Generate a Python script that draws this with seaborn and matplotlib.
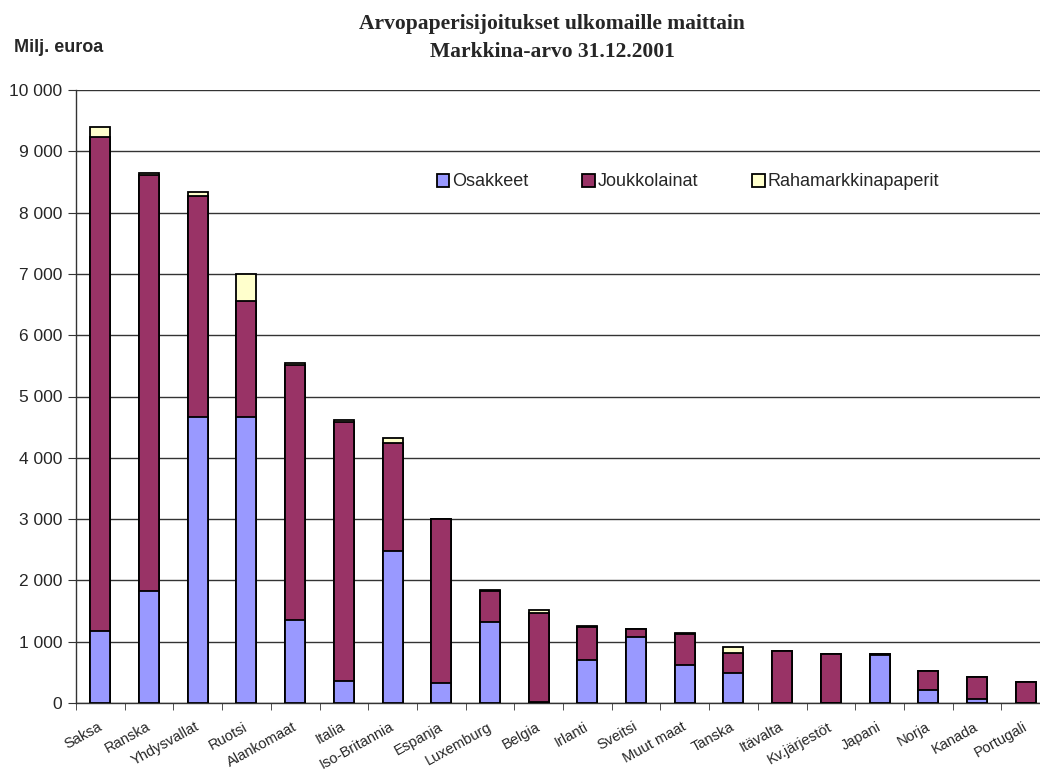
import numpy as np
import pandas as pd
import seaborn as sns
import matplotlib.pyplot as plt
import matplotlib.transforms as mtransforms
from matplotlib.ticker import FuncFormatter, FixedLocator

# Arvopaperisijoitukset ulkomaille maittain, milj. euroa
maat = ['Saksa', 'Ranska', 'Yhdysvallat', 'Ruotsi', 'Alankomaat', 'Italia',
        'Iso-Britannia', 'Espanja', 'Luxemburg', 'Belgia', 'Irlanti', 'Sveitsi',
        'Muut maat', 'Tanska', 'Itävalta', 'Kv.järjestöt', 'Japani', 'Norja',
        'Kanada', 'Portugali']
osakkeet = [1170, 1830, 4665, 4665, 1360, 360, 2480, 320, 1320, 20, 700, 1080,
            620, 490, 0, 0, 780, 210, 60, 0]
joukkolainat = [8060, 6780, 3605, 1900, 4160, 4230, 1760, 2680, 510, 1450, 540, 120,
                510, 330, 850, 800, 20, 315, 370, 350]
rahamarkkina = [160, 40, 60, 437, 30, 20, 80, 5, 10, 40, 15, 10,
                15, 90, 0, 0, 0, 0, 0, 0]

sarjat = ['Osakkeet', 'Joukkolainat', 'Rahamarkkinapaperit']
varit = ['#9999FF', '#993366', '#FFFFCC']

df = pd.DataFrame({'maa': maat, 'Osakkeet': osakkeet,
                   'Joukkolainat': joukkolainat, 'Rahamarkkinapaperit': rahamarkkina})
# kumulatiiviset summat pinottuja pylväitä varten
df['c1'] = df['Osakkeet']
df['c2'] = df['c1'] + df['Joukkolainat']
df['c3'] = df['c2'] + df['Rahamarkkinapaperit']

sns.set_style('white')
plt.rcParams['font.family'] = ['Liberation Sans', 'DejaVu Sans']

fig = plt.figure(figsize=(10.4, 7.72), dpi=100)
ax = fig.add_axes([76 / 1040, 69 / 772, 974 / 1040, 613 / 772])

for col, name, c in zip(['c3', 'c2', 'c1'], sarjat[::-1], varit[::-1]):
    sns.barplot(data=df, x='maa', y=col, order=maat, color=c, width=0.41,
                edgecolor='black', linewidth=1.3, saturation=1, ax=ax, label=name,
                zorder=3)

ax.set_xlim(-0.5, len(maat) - 0.5)
ax.set_ylim(0, 10000)
ax.set_yticks(np.arange(0, 10001, 1000))
ax.yaxis.set_major_formatter(FuncFormatter(lambda v, p: f'{int(v):,}'.replace(',', ' ')))
ax.grid(axis='y', color='#333333', linewidth=1.0, zorder=0)
ax.set_axisbelow(True)

ax.set_xlabel('')
ax.set_ylabel('')
ax.set_xticks(range(len(maat)))
ax.set_xticklabels(maat, rotation=29, ha='right', rotation_mode='anchor', fontsize=10.5)
ax.tick_params(axis='x', which='major', length=0, pad=12)
siirto = mtransforms.ScaledTranslation(-3 / 100, 0, fig.dpi_scale_trans)
for t in ax.get_xticklabels():
    t.set_transform(t.get_transform() + siirto)
ax.xaxis.set_minor_locator(FixedLocator(np.arange(-0.5, len(maat), 1)))
ax.tick_params(axis='x', which='minor', length=5, color='#333333', direction='out', bottom=True)
ax.tick_params(axis='y', length=6, color='#333333', direction='out', left=True, labelsize=12.5, pad=4)

for s in ['top', 'right']:
    ax.spines[s].set_visible(False)
for s in ['left', 'bottom']:
    ax.spines[s].set_color('#333333')
    ax.spines[s].set_linewidth(1.0)

h, l = ax.get_legend_handles_labels()
ax.legend(h[::-1], l[::-1], loc='center', bbox_to_anchor=(688 / 1040, 590 / 772),
          bbox_transform=fig.transFigure, ncol=3, frameon=False, fontsize=13,
          handlelength=0.7, handleheight=0.7, handletextpad=0.15, columnspacing=3.0)

fig.text(552 / 1040, 748 / 772, 'Arvopaperisijoitukset ulkomaille maittain', ha='center', va='center',
         family='Liberation Serif', weight='bold', fontsize=15.5)
fig.text(552 / 1040, 720 / 772, 'Markkina-arvo 31.12.2001', ha='center', va='center',
         family='Liberation Serif', weight='bold', fontsize=15.5)
fig.text(14 / 1040, 724 / 772, 'Milj. euroa', ha='left', va='center', fontsize=13, weight='bold')

fig.savefig('out.png', dpi=100)
